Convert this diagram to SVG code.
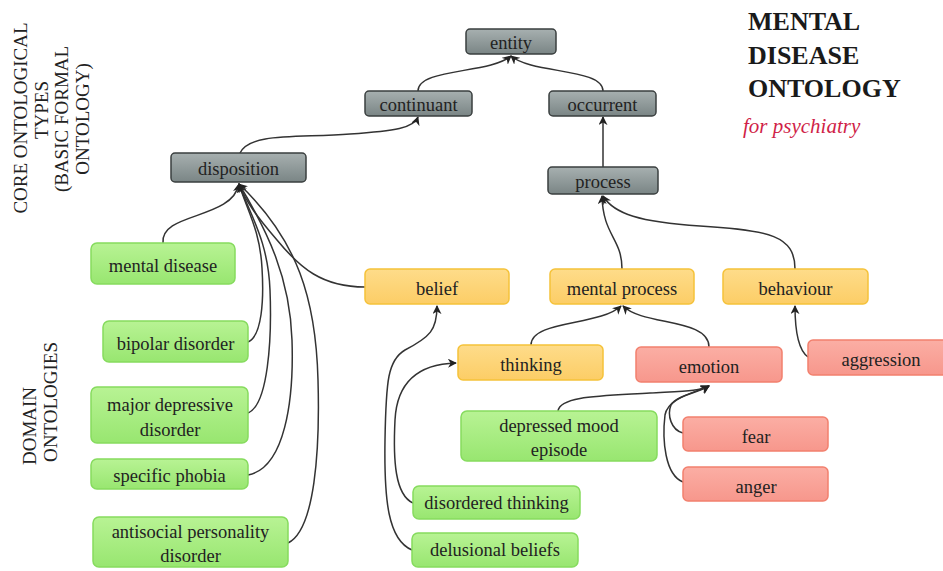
<svg xmlns="http://www.w3.org/2000/svg" width="943" height="571" viewBox="0 0 943 571">
<defs>
<linearGradient id="gGray" x1="0" y1="0" x2="0" y2="1"><stop offset="0" stop-color="#a7b0b0"/><stop offset="1" stop-color="#7a8585"/></linearGradient>
<linearGradient id="gGreen" x1="0" y1="0" x2="0" y2="1"><stop offset="0" stop-color="#b8f394"/><stop offset="1" stop-color="#98e670"/></linearGradient>
<linearGradient id="gYellow" x1="0" y1="0" x2="0" y2="1"><stop offset="0" stop-color="#fedc8a"/><stop offset="1" stop-color="#fccd66"/></linearGradient>
<linearGradient id="gRed" x1="0" y1="0" x2="0" y2="1"><stop offset="0" stop-color="#fbaea4"/><stop offset="1" stop-color="#f7978c"/></linearGradient>
<marker id="arr" viewBox="0 0 10 10" refX="9" refY="5" markerWidth="9" markerHeight="9" markerUnits="userSpaceOnUse" orient="auto">
<path d="M0,0 L10,5 L0,10 L3,5 z" fill="#222"/>
</marker>
<style>
.gray{fill:url(#gGray);stroke:#3a3f3f;stroke-width:1.5}
.green{fill:url(#gGreen);stroke:#86db5e;stroke-width:1.5}
.yellow{fill:url(#gYellow);stroke:#f5c23a;stroke-width:1.5}
.red{fill:url(#gRed);stroke:#f2806e;stroke-width:1.5}
text{font-family:'Liberation Serif','Times New Roman',Times,'DejaVu Serif',serif}
.t{font-size:18.5px;fill:#222;text-anchor:middle}
.side{font-size:19px;fill:#222;text-anchor:middle}
.title{font-size:26px;font-weight:bold;fill:#1a1a1a}
.sub{font-size:21px;font-style:italic;fill:#d01f48}
.c{fill:none;stroke:#333;stroke-width:1.5;marker-end:url(#arr)}
</style>
</defs>
<rect width="943" height="571" fill="#fff"/>

<g id="side-labels">
<text class="side" transform="translate(27,118) rotate(-90)">CORE ONTOLOGICAL</text>
<text class="side" transform="translate(48,110) rotate(-90)">TYPES</text>
<text class="side" transform="translate(68,119) rotate(-90)">(BASIC FORMAL</text>
<text class="side" transform="translate(89,119) rotate(-90)">ONTOLOGY)</text>
<text class="side" transform="translate(36,426) rotate(-90)">DOMAIN</text>
<text class="side" transform="translate(57,402) rotate(-90)">ONTOLOGIES</text>
</g>

<g id="title">
<text class="title" x="748" y="30">MENTAL</text>
<text class="title" x="748" y="63.5">DISEASE</text>
<text class="title" x="748" y="97">ONTOLOGY</text>
<text class="sub" x="743" y="133">for psychiatry</text>
</g>

<g id="connectors">
<path class="c" d="M418,91 C418,68 490,74 511,56"/>
<path class="c" d="M603,91 C603,68 532,74 511,56"/>
<path class="c" d="M240,153 C250,132 300,138 350,134 C395,131 414,128 418,117"/>
<path class="c" d="M603,167 L603,117"/>
<path class="c" d="M622,269 C622,238 603,236 602,196"/>
<path class="c" d="M795,269 C795,236 770,230 700,226 C640,222 614,214 603,196"/>
<path class="c" d="M163,243 C160,212 232,220 239,184"/>
<path class="c" d="M365,287 C322,287 300,268 277,240 C258,218 246,202 239,184"/>
<path class="c" d="M248,342 C262,336 264,300 262,268 C260,230 247,210 239,184"/>
<path class="c" d="M248,413 C268,405 272,340 270,290 C268,240 250,215 239,184"/>
<path class="c" d="M248,475 C285,468 294,400 292,340 C290,278 268,232 239,184"/>
<path class="c" d="M288,543 C315,530 320,450 318,380 C316,300 298,240 239,184"/>
<path class="c" d="M531,345 C531,320 600,326 621,306"/>
<path class="c" d="M709,347 C709,318 643,326 623,306"/>
<path class="c" d="M808,357 C798,350 795,330 795,306"/>
<path class="c" d="M413,503 C395,495 393,460 395,420 C397,380 420,364 456,363"/>
<path class="c" d="M412,550 C388,540 384,500 385,440 C386,380 388,360 405,350 C430,337 437,330 437,306"/>
<path class="c" d="M558,411 C560,396 600,396 650,393 C685,391 700,391 709,386"/>
<path class="c" d="M683,433 C671,430 667,415 671,405 C677,395 698,393 709,386"/>
<path class="c" d="M683,482 C665,475 662,440 665,415 C668,398 694,393 709,386"/>
</g>

<g id="entity"><rect class="gray" x="466" y="29" width="90" height="25" rx="4"/><text class="t" x="511" y="49">entity</text></g>
<g id="continuant"><rect class="gray" x="365" y="91" width="107" height="25" rx="4"/><text class="t" x="418.5" y="111">continuant</text></g>
<g id="occurrent"><rect class="gray" x="549" y="91" width="107" height="25" rx="4"/><text class="t" x="602.5" y="111">occurrent</text></g>
<g id="disposition"><rect class="gray" x="171" y="153" width="135" height="29" rx="4"/><text class="t" x="238.5" y="175">disposition</text></g>
<g id="process"><rect class="gray" x="548" y="167" width="110" height="27" rx="4"/><text class="t" x="603" y="188">process</text></g>

<g id="mental-disease"><rect class="green" x="91" y="243" width="144" height="41" rx="6"/><text class="t" x="163" y="272">mental disease</text></g>
<g id="bipolar-disorder"><rect class="green" x="103" y="321" width="145" height="41" rx="6"/><text class="t" x="175.5" y="350">bipolar disorder</text></g>
<g id="major-depressive-disorder"><rect class="green" x="91" y="387" width="157" height="56" rx="6"/><text class="t" x="170" y="411">major depressive</text><text class="t" x="170" y="436">disorder</text></g>
<g id="specific-phobia"><rect class="green" x="91" y="459" width="157" height="30" rx="6"/><text class="t" x="169.5" y="482">specific phobia</text></g>
<g id="antisocial-personality-disorder"><rect class="green" x="93" y="517" width="195" height="50" rx="6"/><text class="t" x="190.5" y="538">antisocial personality</text><text class="t" x="190.5" y="562">disorder</text></g>

<g id="belief"><rect class="yellow" x="365" y="269" width="144" height="35" rx="5"/><text class="t" x="437" y="295">belief</text></g>
<g id="mental-process"><rect class="yellow" x="550" y="269" width="144" height="35" rx="5"/><text class="t" x="622" y="295">mental process</text></g>
<g id="behaviour"><rect class="yellow" x="723" y="269" width="145" height="35" rx="5"/><text class="t" x="795.5" y="295">behaviour</text></g>
<g id="thinking"><rect class="yellow" x="458" y="345" width="145" height="35" rx="5"/><text class="t" x="531" y="371">thinking</text></g>

<g id="emotion"><rect class="red" x="636" y="347" width="146" height="35" rx="5"/><text class="t" x="709" y="373">emotion</text></g>
<g id="aggression"><rect class="red" x="808" y="340" width="150" height="35" rx="5"/><text class="t" x="881" y="366">aggression</text></g>
<g id="fear"><rect class="red" x="683" y="417" width="145" height="34" rx="5"/><text class="t" x="756" y="443">fear</text></g>
<g id="anger"><rect class="red" x="683" y="467" width="145" height="34" rx="5"/><text class="t" x="756" y="493">anger</text></g>

<g id="depressed-mood-episode"><rect class="green" x="461" y="411" width="196" height="50" rx="6"/><text class="t" x="559" y="432">depressed mood</text><text class="t" x="559" y="456">episode</text></g>
<g id="disordered-thinking"><rect class="green" x="413" y="486" width="167" height="33" rx="6"/><text class="t" x="496.5" y="509">disordered thinking</text></g>
<g id="delusional-beliefs"><rect class="green" x="412" y="533" width="166" height="34" rx="6"/><text class="t" x="495" y="556">delusional beliefs</text></g>
</svg>
